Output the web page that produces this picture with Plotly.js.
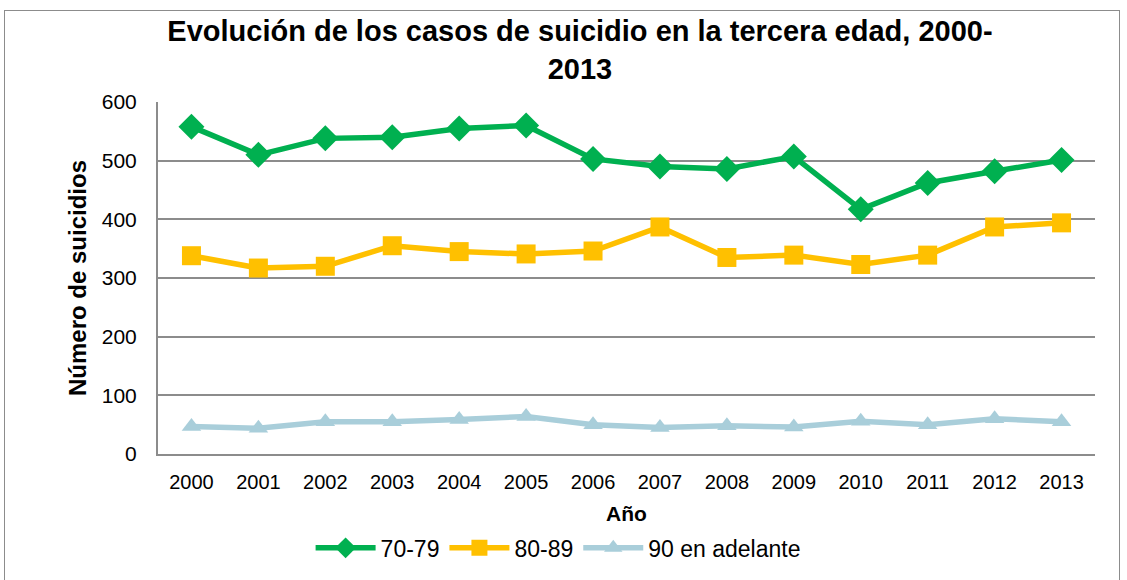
<!DOCTYPE html>
<html><head><meta charset="utf-8">
<script src="https://cdn.plot.ly/plotly-3.0.1.min.js"></script>
<style>
html,body{margin:0;padding:0;background:#fff;}
#frame{position:absolute;left:4px;top:10px;width:1116px;height:580px;border:1px solid #8c8c8c;box-sizing:border-box;}
#chart{position:absolute;left:0;top:0;width:1127px;height:580px;}
</style></head>
<body>
<div id="frame"></div>
<div id="chart"></div>
<script>
const years = ['2000','2001','2002','2003','2004','2005','2006','2007','2008','2009','2010','2011','2012','2013'];
const s7079 = [558,510,538,540,555,560,503,490,486,507,417,462,482,501];
const s8089 = [338,317,320,355,345,341,346,387,335,339,323,339,387,394];
const s90 = [47,44,55,55,59,64,50,45,48,46,56,50,60,55];
const names = ['70-79','80-89','90 en adelante'];

const font = 'Liberation Sans, Arial, sans-serif';
const traces = [
  {x: years, y: s7079, name: names[0], mode:'lines+markers',
   line:{color:'#00B050', width:5.5}, marker:{symbol:'diamond', size:20, color:'#00B050'}},
  {x: years, y: s8089, name: names[1], mode:'lines+markers',
   line:{color:'#FFC000', width:5.5}, marker:{symbol:'square', size:19, color:'#FFC000'}},
  {x: years, y: s90, name: names[2], mode:'lines+markers',
   line:{color:'#A9CEDA', width:5.5}, marker:{symbol:'triangle-up', size:17, color:'#A9CEDA'}}
];
const layout = {
  width:1127, height:580,
  paper_bgcolor:'rgba(0,0,0,0)', plot_bgcolor:'rgba(0,0,0,0)',
  margin:{l:158, r:32, t:102, b:125},
  font:{family:font, size:20, color:'#000'},
  title:{text:'<b>Evolución de los casos de suicidio en la tercera edad, 2000-<br>2013</b>',
    font:{family:font, size:29, color:'#000'}, x:0.5146, xanchor:'center', y:0.929, yanchor:'top'},
  xaxis:{type:'category', range:[-0.5,13.5], showgrid:false, showline:true, linecolor:'#8c8c8c', linewidth:2,
    ticks:'', tickfont:{size:20}, ticklabelstandoff:9,
    title:{text:'<b>Año</b>', font:{size:21}, standoff:14}},
  yaxis:{range:[0,600], dtick:100, showgrid:true, gridcolor:'#8c8c8c', gridwidth:2,
    showline:true, linecolor:'#8c8c8c', linewidth:2, zeroline:false, ticks:'', ticklen:0,
    tickfont:{size:21}, ticklabelstandoff:15,
    title:{text:'<b>Número de suicidios</b>', font:{size:24}, standoff:8}},
  showlegend:true,
  legend:{orientation:'h', x:0.427, xanchor:'center', y:-0.263, yanchor:'middle', font:{size:23}, itemwidth:60, traceorder:'normal'}
};
Plotly.newPlot('chart', traces, layout, {displayModeBar:false, staticPlot:true});
</script>
</body></html>
